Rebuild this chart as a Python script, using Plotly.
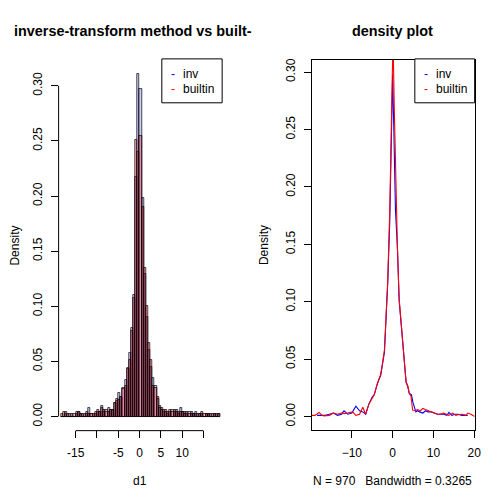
import numpy as np
import plotly.graph_objs as go
from plotly.subplots import make_subplots

# histogram bins (width 0.5) and densities
bin_width = 0.5
bin_start = -18.5
inv_hist = [0, 0, 0.002, 0.002, 0, 0.002, 0, 0.004, 0.004, 0.002,
            0.002, 0, 0.002, 0.008, 0.002, 0, 0.002, 0.004, 0.004, 0.010,
            0.006, 0.004, 0.008, 0.006, 0.006, 0.012,
            0.014, 0.021, 0.018, 0.025, 0.033, 0.043, 0.058, 0.080, 0.110, 0.217,
            0.311, 0.297, 0.198, 0.129, 0.090, 0.060, 0.045, 0.035, 0.028, 0.016,
            0.010, 0.008, 0.004,
            0.004, 0.002, 0.004, 0.006, 0.004, 0.006, 0.002, 0.008, 0.004, 0.004,
            0.002, 0.004, 0.004, 0.002, 0.004, 0.002, 0.002, 0.002, 0, 0.002,
            0.002, 0, 0.002, 0.002, 0, 0.002]
builtin_hist = [0.002, 0.004, 0.004, 0, 0.002, 0, 0.002, 0.002, 0.004, 0.002,
                0, 0.002, 0.004, 0.002, 0.002, 0.002, 0.004, 0.006, 0.004, 0.008,
                0.004, 0.006, 0.004, 0.006, 0.006, 0.012,
                0.016, 0.015, 0.018, 0.026, 0.028, 0.044, 0.051, 0.078, 0.108, 0.251,
                0.240, 0.255, 0.190, 0.135, 0.100, 0.067, 0.051, 0.028, 0.026, 0.018,
                0.008, 0.006, 0.006,
                0.006, 0.004, 0.006, 0.004, 0.006, 0.004, 0.004, 0.004, 0.004, 0.002,
                0.004, 0.002, 0.002, 0.002, 0.002, 0, 0.002, 0.004, 0.002, 0.002,
                0.002, 0.002, 0, 0.002, 0.002, 0.002]
bin_mid = bin_start + bin_width * (np.arange(len(inv_hist)) + 0.5)

# kernel density curves
inv_x = [-18.5, -17.5, -16.5, -15.5, -14.5, -13.5, -12.5, -11.9, -11.0, -10.0,
         -9.0, -8.1, -7.3, -6.6, -5.8, -5.0, -4.5, -3.7, -2.9, -2.0,
         -1.2, -0.7, -0.3, 0.0, 0.3, 0.7, 1.2, 1.6, 2.3, 2.9,
         3.3, 3.7, 4.1, 4.6, 5.0, 5.7, 6.1, 6.6, 7.4, 8.1,
         8.6, 9.5, 10.2, 11.0, 11.5, 12.5, 13.3, 13.8, 14.5, 15.3,
         16.0, 17.0, 18.0, 18.4]
inv_y = [0.001, 0.001, 0.001, 0.002, 0.003, 0.001, 0.002, 0.005, 0.002, 0.003,
         0.009, 0.005, 0.004, 0.002, 0.011, 0.017, 0.019, 0.029, 0.036, 0.056,
         0.116, 0.170, 0.250, 0.298, 0.250, 0.180, 0.145, 0.101, 0.072, 0.049,
         0.030, 0.026, 0.020, 0.019, 0.012, 0.004, 0.005, 0.004, 0.003, 0.005,
         0.004, 0.004, 0.003, 0.002, 0.002, 0.002, 0.001, 0.0035, 0.001, 0.002,
         0.002, 0.001, 0.001, 0.001]
builtin_x = [-19.8, -19.0, -18.0, -17.3, -16.8, -15.5, -14.5, -13.5, -12.5, -11.9,
             -11.0, -9.8, -9.0, -8.1, -7.3, -6.6, -5.8, -5.0, -4.5, -3.7,
             -2.9, -2.0, -1.2, -0.7, -0.3, 0.1, 0.4, 0.8, 1.2, 1.6,
             2.3, 2.9, 3.3, 3.7, 4.1, 4.5, 4.9, 5.5, 6.1, 6.8,
             7.4, 8.0, 8.6, 9.3, 10.2, 11.0, 11.5, 12.5, 13.0, 13.8,
             14.7, 15.5, 16.0, 17.0, 18.0, 18.4, 19.2, 19.7, 20.1]
builtin_y = [0.001, 0.001, 0.0035, 0.001, 0.0005, 0.001, 0.003, 0.002, 0.003, 0.0025,
             0.003, 0.004, 0.001, 0.002, 0.008, 0.002, 0.011, 0.016, 0.019, 0.029,
             0.037, 0.058, 0.118, 0.180, 0.270, 0.330, 0.270, 0.190, 0.145, 0.103,
             0.072, 0.047, 0.030, 0.027, 0.020, 0.018, 0.0055, 0.005, 0.006, 0.005,
             0.007, 0.006, 0.005, 0.004, 0.003, 0.002, 0.002, 0.003, 0.002, 0.001,
             0.003, 0.001, 0.0015, 0.002, 0.001, 0.003, 0.002, 0.001, 0.0]

left_xticks = [-15, -10, -5, 0, 5, 10, 15]
left_xlabels = ["-15", "", "-5", "0", "5", "10", ""]
right_xticks = [-10, 0, 10, 20]
yticks = [0, 0.05, 0.10, 0.15, 0.20, 0.25, 0.30]
ylabels = ["0.00", "0.05", "0.10", "0.15", "0.20", "0.25", "0.30"]

# the page comes out 496 wide in the photo, 504 high
W_X = 496.0
W_Y = 504.0
FONT = "Liberation Sans, Arial, sans-serif"


def px_x(v):
    return v / W_X


def px_y(v):
    return 1 - v / W_Y


def add_text(fig, text, x, y, size=12, color='black', xanchor='center', angle=0):
    fig.add_annotation(text=text, x=px_x(x), y=px_y(y), xref='paper', yref='paper',
                       xanchor=xanchor, yanchor='middle', textangle=angle, showarrow=False,
                       font=dict(family=FONT, size=size, color=color))


fig = make_subplots(rows=1, cols=2)

fig.add_trace(go.Bar(x=bin_mid, y=inv_hist, width=bin_width, name='inv',
                     marker=dict(color='rgba(0,0,255,0.2)', line=dict(color='black', width=0.7))),
              row=1, col=1)
fig.add_trace(go.Bar(x=bin_mid, y=builtin_hist, width=bin_width, name='builtin',
                     marker=dict(color='rgba(255,0,0,0.3)', line=dict(color='black', width=0.7))),
              row=1, col=1)

fig.add_trace(go.Scatter(x=inv_x, y=inv_y, mode='lines', name='inv',
                         line=dict(color='blue', width=1.1)), row=1, col=2)
fig.add_trace(go.Scatter(x=builtin_x, y=builtin_y, mode='lines', name='builtin',
                         line=dict(color='red', width=1.1)), row=1, col=2)

axis_common = dict(showgrid=False, zeroline=False, ticks='outside', ticklen=7,
                   tickcolor='black', tickwidth=1, tickfont=dict(family=FONT, size=12, color='black'))

fig.update_xaxes(axis_common)
fig.update_yaxes(axis_common)

fig.update_layout(
    xaxis=dict(domain=[px_x(59), px_x(221.7)], range=[-18.88, 19.37], showline=False,
               tickvals=left_xticks, ticktext=left_xlabels, ticklabelstandoff=4),
    yaxis=dict(domain=[px_y(430), px_y(59)], range=[-0.0124, 0.3235], showline=False,
               tickvals=yticks, ticktext=ylabels, tickangle=-90, ticklabelstandoff=4),
    xaxis2=dict(domain=[px_x(311), px_x(473.7)], range=[-19.84, 20.1], showline=True, mirror=True,
                linecolor='black', linewidth=1, tickvals=right_xticks, ticklabelstandoff=4),
    yaxis2=dict(domain=[px_y(430), px_y(59)], range=[-0.0119, 0.3107], showline=True, mirror=True,
                linecolor='black', linewidth=1, tickvals=yticks, ticktext=ylabels, tickangle=-90,
                ticklabelstandoff=4),
    barmode='overlay', bargap=0,
    showlegend=False,
    autosize=True,
    margin=dict(l=0, r=0, t=0, b=0),
    paper_bgcolor='white', plot_bgcolor='white',
    font=dict(family=FONT, size=12, color='black'),
)

# R style axis lines on the histogram, only across the tick range
fig.add_shape(type='line', xref='paper', yref='y', x0=px_x(58.5), x1=px_x(58.5), y0=0, y1=0.30,
              line=dict(color='black', width=1))
fig.add_shape(type='line', xref='x', yref='paper', x0=-15, x1=15, y0=px_y(430.5), y1=px_y(430.5),
              line=dict(color='black', width=1))

# legend boxes
for x0, x1 in [(161.5, 221.7), (414, 473.7)]:
    fig.add_shape(type='rect', xref='paper', yref='paper', x0=px_x(x0), x1=px_x(x1),
                  y0=px_y(102), y1=px_y(58), line=dict(color='black', width=1), fillcolor='white')
    for label, color, yy in [('inv', 'blue', 73), ('builtin', 'red', 88.5)]:
        add_text(fig, '-', x0 + 11, yy, color=color)
        add_text(fig, label, x0 + 19, yy, xanchor='left')

# titles and axis labels
add_text(fig, '<b>inverse-transform method vs built-</b>', 12, 30, size=14.4, xanchor='left')
add_text(fig, '<b>density plot</b>', 392, 30, size=14.4)
add_text(fig, 'd1', 140, 481)
add_text(fig, 'N = 970   Bandwidth = 0.3265', 392, 481)
add_text(fig, 'Density', 14, 245, angle=-90)
add_text(fig, 'Density', 263, 245, angle=-90)

# fill the whole window: drop the page margin, then let plotly re-measure
fix_page = ("document.documentElement.style.overflow='hidden';"
            "document.body.style.margin='0';"
            "document.body.style.overflow='hidden';"
            "Plotly.Plots.resize(document.getElementById('{plot_id}'));")

fig.write_html("out.html", default_width='100vw', default_height='100vh',
               config={'displayModeBar': False, 'responsive': True},
               post_script=fix_page)
